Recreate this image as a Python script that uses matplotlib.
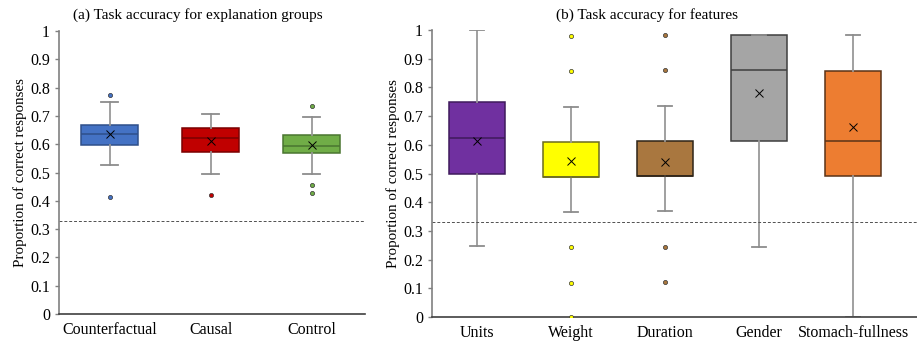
import matplotlib
matplotlib.use("Agg")
import matplotlib.pyplot as plt

plt.rcParams['font.family'] = ['Liberation Serif', 'DejaVu Serif']

# (a) explanation groups
groups = ["Counterfactual", "Causal", "Control"]
groups_q1 = [0.599, 0.571, 0.568]
groups_med = [0.635, 0.622, 0.595]
groups_q3 = [0.668, 0.659, 0.632]
groups_lo = [0.525, 0.496, 0.494]
groups_hi = [0.749, 0.708, 0.695]
groups_mean = [0.635, 0.611, 0.599]
groups_fliers = [[0.774, 0.412], [0.421], [0.734, 0.455, 0.429]]
groups_colors = ["#4472C4", "#C00000", "#70AD47"]
groups_edges = ["#2F4F8A", "#7A0000", "#4A7530"]

# (b) features
features = ["Units", "Weight", "Duration", "Gender", "Stomach-fullness"]
feat_q1 = [0.499, 0.489, 0.490, 0.613, 0.490]
feat_med = [0.625, 0.489, 0.490, 0.859, 0.612]
feat_q3 = [0.749, 0.611, 0.612, 0.983, 0.858]
feat_lo = [0.249, 0.366, 0.368, 0.244, 0.0]
feat_hi = [1.0, 0.733, 0.736, 0.983, 0.983]
feat_mean = [0.615, 0.544, 0.539, 0.781, 0.662]
feat_fliers = [[], [0.980, 0.858, 0.243, 0.120, 0.0], [0.983, 0.859, 0.244, 0.122], [], []]
feat_colors = ["#7030A0", "#FFFF00", "#A9773F", "#A5A5A5", "#ED7D31"]
feat_edges = ["#3F1A5C", "#6B6B20", "#2E2418", "#3F3F3F", "#5A3318"]

chance = 0.33


def draw_panel(ax, names, q1, med, q3, lo, hi, mean, fliers, colors, edges, width, capw):
    stats = []
    for i, n in enumerate(names):
        stats.append({"label": n, "q1": q1[i], "med": med[i], "q3": q3[i],
                      "whislo": lo[i], "whishi": hi[i], "mean": mean[i],
                      "fliers": fliers[i]})
    bp = ax.bxp(stats, widths=width, patch_artist=True, showmeans=True,
                showfliers=False, capwidths=capw,
                whiskerprops=dict(color="#999999", lw=1.3),
                capprops=dict(color="#8C8C8C", lw=1.3),
                meanprops=dict(marker="x", markeredgecolor="black", markersize=6, markeredgewidth=0.7))
    for i, box in enumerate(bp["boxes"]):
        box.set_facecolor(colors[i])
        box.set_edgecolor(edges[i])
        box.set_linewidth(1.1)
        bp["medians"][i].set_color(edges[i])
        bp["medians"][i].set_linewidth(1.1)
        ys = fliers[i]
        ax.scatter([i + 1] * len(ys), ys, s=9, color=colors[i],
                   edgecolors="#333333", linewidths=0.5, zorder=4)
    ax.axhline(chance, color="#505050", lw=0.7, ls=(0, (3, 2)))
    ax.set_ylim(0, 1)
    ax.set_yticks([i / 10 for i in range(11)])
    ax.set_yticklabels(["0"] + ["%.1f" % (i / 10) for i in range(1, 10)] + ["1"])
    ax.tick_params(axis="y", labelsize=11.5, length=3, color="#808080", width=1)
    ax.tick_params(axis="x", labelsize=11.5, length=0, pad=6)
    for s in ["top", "right"]:
        ax.spines[s].set_visible(False)
    ax.spines["left"].set_color("#808080")
    ax.spines["left"].set_linewidth(1.2)
    ax.spines["bottom"].set_color("#404040")
    ax.spines["bottom"].set_linewidth(1.2)
    ax.set_ylabel("Proportion of correct responses", fontsize=10.8, labelpad=2)


fig = plt.figure(figsize=(9.17, 3.43), dpi=100)
ax1 = fig.add_axes([0.0643, 0.0845, 0.334, 0.825])
ax2 = fig.add_axes([0.471, 0.0758, 0.529, 0.8367])

draw_panel(ax1, groups, groups_q1, groups_med, groups_q3, groups_lo, groups_hi,
           groups_mean, groups_fliers, groups_colors, groups_edges, 0.57, 0.17)
ax1.set_xlim(0.5, 3.53)
draw_panel(ax2, features, feat_q1, feat_med, feat_q3, feat_lo, feat_hi,
           feat_mean, feat_fliers, feat_colors, feat_edges, 0.6, 0.14)
ax2.set_xlim(0.52, 5.68)

fig.text(198 / 917, 1 - 15 / 343, "(a) Task accuracy for explanation groups",
         ha="center", va="center", fontsize=11)
fig.text(647 / 917, 1 - 15 / 343, "(b) Task accuracy for features",
         ha="center", va="center", fontsize=11)

fig.savefig("out.png", dpi=100)
